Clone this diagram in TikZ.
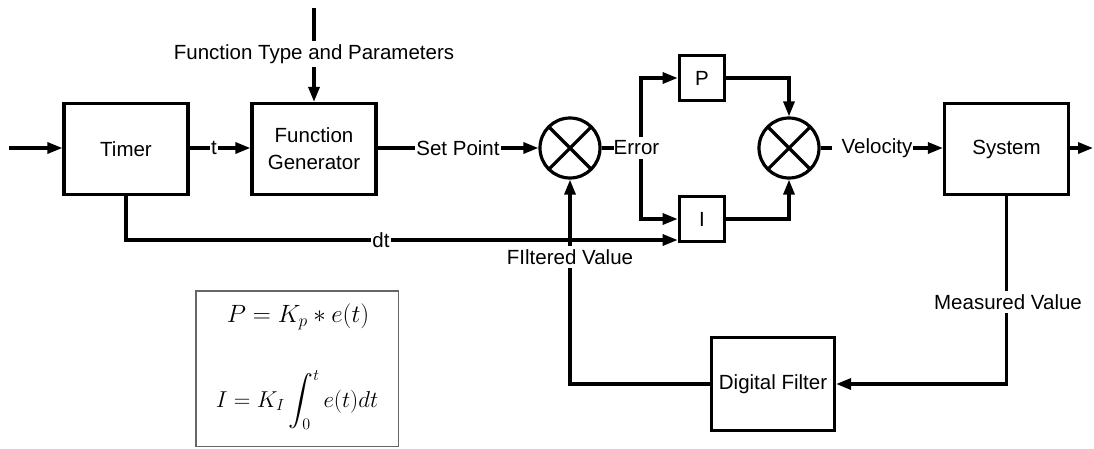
\documentclass[tikz,border=0pt]{standalone}
\usepackage{fix-cm}
\usepackage{exscale}
\usepackage{fontspec}
\setmainfont{Liberation Sans}
\usetikzlibrary{arrows.meta}
\begin{document}
\begin{tikzpicture}[x=1pt,y=-1pt,
  every node/.style={font=\fontsize{20.5}{24}\selectfont},
  blk/.style={draw,line width=3.2pt,inner sep=0pt},
  bigblk/.style={blk,minimum width=124pt,minimum height=91pt},
  smallblk/.style={blk,minimum width=45.5pt,minimum height=45pt},
  lbl/.style={fill=white,inner xsep=1pt,inner ysep=3.5pt},
  conn/.style={line width=3.2pt},
  arr/.style={conn,-{Triangle[length=15pt,width=11pt]}},
  sumnode/.style={draw,circle,line width=3.2pt,minimum size=60pt,inner sep=0pt,
     path picture={\draw[line width=3.2pt]
        (path picture bounding box.north west)--(path picture bounding box.south east)
        (path picture bounding box.north east)--(path picture bounding box.south west);}},
  eqbox/.style={draw=black!60,line width=1.5pt,minimum width=202.5pt,minimum height=155.5pt},
  eq/.style={font=\fontsize{25}{30}\selectfont}]
\useasboundingbox (0,0) rectangle (1094,448);

% blocks
\node[bigblk] (timer) at (126,149) {Timer};
\node[bigblk,align=center,font=\fontsize{20.5}{27}\selectfont] (fg) at (314,149) {Function\\Generator};
\node[sumnode] (s1) at (570,148) {};
\node[smallblk] (P) at (702,78) {P};
\node[smallblk] (I) at (702,219) {I};
\node[sumnode] (s2) at (789,148) {};
\node[bigblk] (sys) at (1006.5,149) {System};
\node[blk,minimum width=123pt,minimum height=93pt] (df) at (773,384) {Digital Filter};

% free ends
\coordinate (in) at (9,148);
\coordinate (out) at (1093,148);
\coordinate (ftop) at (314,8);
\coordinate (br) at (641,148);
\path (I.west) ++(0,21) coordinate (dtend);

% connectors
\draw[arr] (timer.south) |- (dtend);
\draw[arr] (in) -- (in -| timer.west);
\draw[arr] (timer.east |- s1) -- (fg.west |- s1);
\draw[arr] (ftop) -- (fg.north);
\draw[arr] (fg.east |- s1) -- (s1);
\draw[conn] (s1) -- (br);
\draw[arr] (br) |- (P.west);
\draw[arr] (br) |- (I.west);
\draw[arr] (P.east) -| (s2.north);
\draw[arr] (I.east) -| (s2.south);
\draw[arr] (s2) -- (sys.west |- s2);
\draw[arr] (sys.east |- s2) -- (out);
\draw[arr] (sys.south) |- (df.east);
\draw[arr] (df.west) -| (s1.south);

% labels
\node[lbl] (tl) at (214,148) {t};
\node[lbl] (ftl) at (314,54) {Function Type and Parameters};
\node[lbl] (spl) at (458,148) {Set Point};
\node[lbl,inner xsep=0pt] (errl) at (636.5,148) {Error};
\node[lbl] (vell) at (872.5,148) {\hspace{9pt}Velocity};
\node[lbl] (dtl) at (381,240) {dt};
\node[lbl] (fvl) at (570,257) {FIltered Value};
\node[lbl] (mvl) at (1008,302) {Measured Value};

% formula box
\node[eqbox] (fbox) at (297,368.5) {};
\node[eq] (eqP) at (298,317) {$P = K_p \ast e(t)$};
\node[eq,font=\fontsize{23}{28}\selectfont] (eqI) at (297,400) {$\displaystyle I = K_I\int_0^t e(t)dt$};
\end{tikzpicture}
\end{document}
